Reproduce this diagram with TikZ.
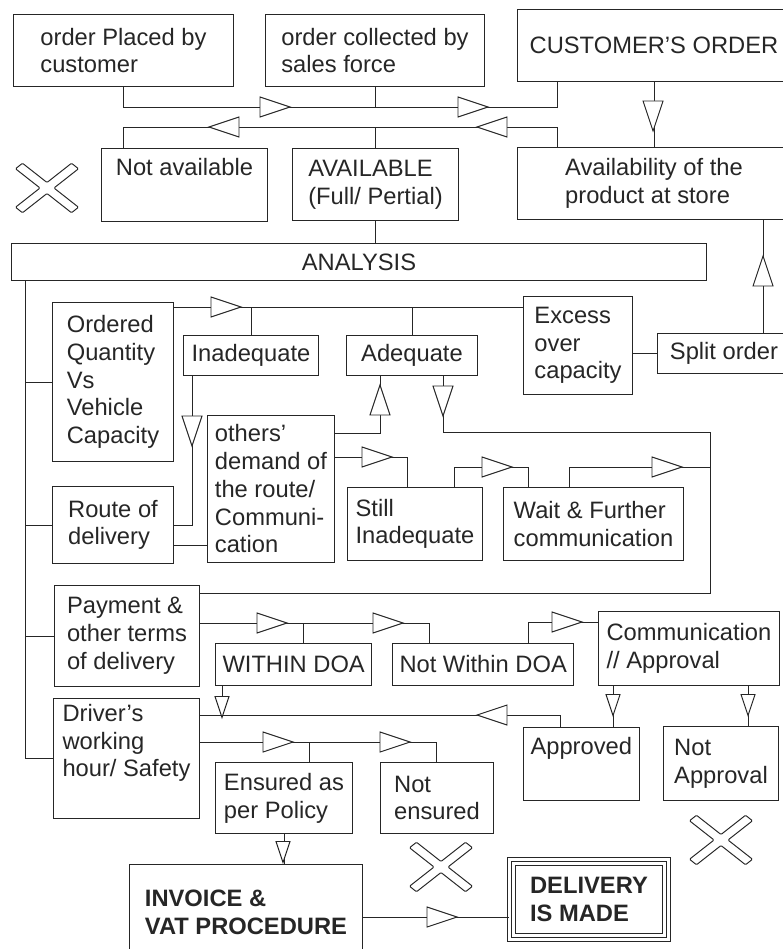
\documentclass[tikz,border=0pt]{standalone}
\usepackage{fontspec}
\setmainfont{Liberation Sans}
\usetikzlibrary{calc,positioning}

\tikzset{
	box/.style={draw, anchor=north west, align=left, inner xsep=4pt, inner ysep=3pt,
		font=\fontsize{13.5}{15.8}\selectfont},
	boldbox/.style={box, font=\fontsize{13.5}{15.8}\selectfont\bfseries},
	sz/.style 2 args={minimum width=#1\unitpx, minimum height=#2\unitpx},
	tri/.pic={\draw[fill=white] (-15,-10) -- (15,0) -- (-15,10) -- cycle;},
	cross/.pic={\draw[rounded corners=.6pt] (0,.25) -- (.875,1.125) -- (1.125,.875) -- (.25,0)
		-- (1.125,-.875) -- (.875,-1.125) -- (0,-.25) -- (-.875,-1.125) -- (-1.125,-.875)
		-- (-.25,0) -- (-1.125,.875) -- (-.875,1.125) -- cycle;},
}

\begin{document}
\begin{tikzpicture}[x=.02cm, y=-.02cm, line width=.55pt, color=black!85]
		\newlength\unitpx
		\pgfmathsetlength\unitpx{.02cm}
		\useasboundingbox (0,0) rectangle (782,949);

		% order side
		\node[box, sz={220}{72}] (placed) at (13,14) {order Placed by\\customer};
		\node[box, sz={219}{72}] (collected) at (265,14) {order collected by\\sales force};
		\node[box, sz={273}{72}] (custorder) at (517,9) {CUSTOMER'S ORDER};
		\node[box, sz={273}{72}] (avail) at (517,147) {Availability of the\\product at store};
		\node[box, sz={166}{73}] (notavail) at (101,148) {Not available\\\strut};
		\node[box, sz={166}{72}] (available) at (292,148) {AVAILABLE\\(Full/ Pertial)};
		\node[box, sz={695}{37}] (analysis) at (11,243) {ANALYSIS};

		% analysis
		\node[box, sz={121}{159}] (ordered) at (52,302) {Ordered\\Quantity\\Vs\\Vehicle\\Capacity};
		\node[box, sz={135}{40}] (inadequate) at (183,335) {Inadequate};
		\node[box, sz={131}{40}] (adequate) at (346,335) {Adequate};
		\node[box, sz={109}{98}] (excess) at (523,296) {Excess\\over\\capacity};
		\node[box, sz={133}{40}] (split) at (657,333) {Split order};
		\node[box, sz={121}{77}] (route) at (52,486) {Route of\\delivery};
		\node[box, sz={127}{147}] (others) at (207,415) {others'\\demand of\\the route/\\Communi-\\cation};
		\node[box, sz={135}{73}] (stillinad) at (347,487) {Still\\Inadequate};
		\node[box, sz={180}{73}] (wait) at (503,487) {Wait \& Further\\communication};
		\node[box, sz={145}{101}] (payment) at (54,585) {Payment \&\\other terms\\of delivery};
		\node[box, sz={156}{42}] (within) at (215,643) {WITHIN DOA};
		\node[box, sz={181}{42}] (notwithin) at (392,643) {Not Within DOA};
		\node[box, sz={181}{74}] (comm) at (598,611) {Communication\\// Approval};
		\node[box, sz={146}{120}] (driver) at (53,698) {Driver's\\working\\hour/ Safety\\\strut};
		\node[box, sz={114}{73}] (approved) at (523,727) {Approved\\\strut};
		\node[box, sz={115}{74}] (notappr) at (663,726) {Not\\Approval};
		\node[box, sz={137}{71}] (ensured) at (215,762) {Ensured as\\per Policy};
		\node[box, sz={113}{71}] (notens) at (380,762) {Not\\ensured};
		\node[boldbox, sz={233}{95}] (invoice) at (129,864) {INVOICE \&\\VAT PROCEDURE};
		\node[boldbox, double, double distance=1.2pt, sz={159}{80}] (delivery) at (509,859) {DELIVERY\\IS MADE};
		\draw ([shift={(6,6)}]delivery.north west) rectangle ([shift={(-6,-6)}]delivery.south east);

		\coordinate (j1) at (557,107);
		\coordinate (j2) at (123,127);
		\coordinate (spine) at (25,0);
		\coordinate (row1) at (0,307);
		\coordinate (j3) at (763,0);
		\coordinate (loop) at (710,432);

		\draw (placed.south) |- (j1) -- (j1 |- custorder.south);
		\draw (collected.south) -- (collected.south |- j1);
		\draw (custorder.south) -- (avail.north);
		\draw (j1 |- avail.north) |- (j2) -- (j2 |- notavail.north);
		\draw (available.north) -- (available.north |- j2);
		\draw (available.south) -- (available.south |- analysis.north);

		\draw (spine |- analysis.south) |- (driver.west);
		\foreach \b in {ordered,route,payment}{
			\draw (\b.west) -- (\b.west -| spine);
		}

		\draw (ordered.east |- row1) -- (excess.west |- row1);
		\draw (inadequate.north) -- (inadequate.north |- row1);
		\draw (adequate.north) -- (adequate.north |- row1);
		\draw (excess.east |- split.west) -- (split.west);
		\draw (j3 |- split.north) -- (j3 |- avail.south);
		\draw ([xshift=9\unitpx]inadequate.south west) |- (route.east);
		\draw ([yshift=18\unitpx]route.south east) coordinate (r1) -- (r1 -| others.west);
		\draw ([yshift=-18\unitpx]others.north east) -| ([xshift=34\unitpx]adequate.south west);
		\draw ([yshift=-42\unitpx]others.north east) -| ([xshift=60\unitpx]stillinad.north west);
		\draw ([xshift=107\unitpx]stillinad.north west) -- ++(0,-20) -| ([xshift=25\unitpx]wait.north west);
		\draw ([xshift=66\unitpx]wait.north west) -- ++(0,-20) coordinate (w1) -- (w1 -| loop);
		\draw ([xshift=-34\unitpx]adequate.south east) |- (loop) |- ([yshift=-8\unitpx]payment.north east);

		\draw ([yshift=-38\unitpx]payment.north east) -| ([xshift=37\unitpx]notwithin.north west);
		\draw ([xshift=88\unitpx]within.north west) -- ++(0,-20);
		\draw ([xshift=-46\unitpx]notwithin.north east) |- ([yshift=-11\unitpx]comm.north west);
		\draw ([xshift=7\unitpx]within.south west) -- ++(0,30);
		\draw ([yshift=-17\unitpx]driver.north east) -| ([xshift=37\unitpx]approved.north west);
		\draw ([xshift=15\unitpx]comm.south west) coordinate (c1) -- (c1 |- approved.north);
		\draw ([xshift=-31\unitpx]comm.south east) coordinate (c2) -- (c2 |- notappr.north);
		\draw ([yshift=-44\unitpx]driver.north east) -| ([xshift=56\unitpx]notens.north west);
		\draw ([xshift=94\unitpx]ensured.north west) -- ++(0,-20);
		\draw (ensured.south) -- (ensured.south |- invoice.north);
		\draw ([yshift=-18\unitpx]delivery.west) coordinate (d1) -- (d1 -| invoice.east);

		% triangles on the lines
		\foreach \x/\y/\r in {275/107/0, 473/107/0, 653/116/-90, 492/127/180, 224/127/180,
			226/307/0, 763/271/90, 192/431/-90, 380/400/90, 377/457/0, 443/401/-90,
			497/467/0, 667/467/0, 272/623/0, 388/623/0, 567/622/0, 492/715/180,
			278/742/0, 395/742/0, 442/917/0}{
			\pic[rotate=\r] at (\x,\y) {tri};
		}
		\foreach \x/\y in {222/707, 613/705, 748/705, 283/852}{
			\pic[rotate=-90, scale=.7] at (\x,\y) {tri};
		}

		\pic[xscale=28, yscale=22] at (47,188) {cross};
		\pic[xscale=28, yscale=22] at (441,867) {cross};
		\pic[xscale=28, yscale=22] at (721,840) {cross};
\end{tikzpicture}
\end{document}
